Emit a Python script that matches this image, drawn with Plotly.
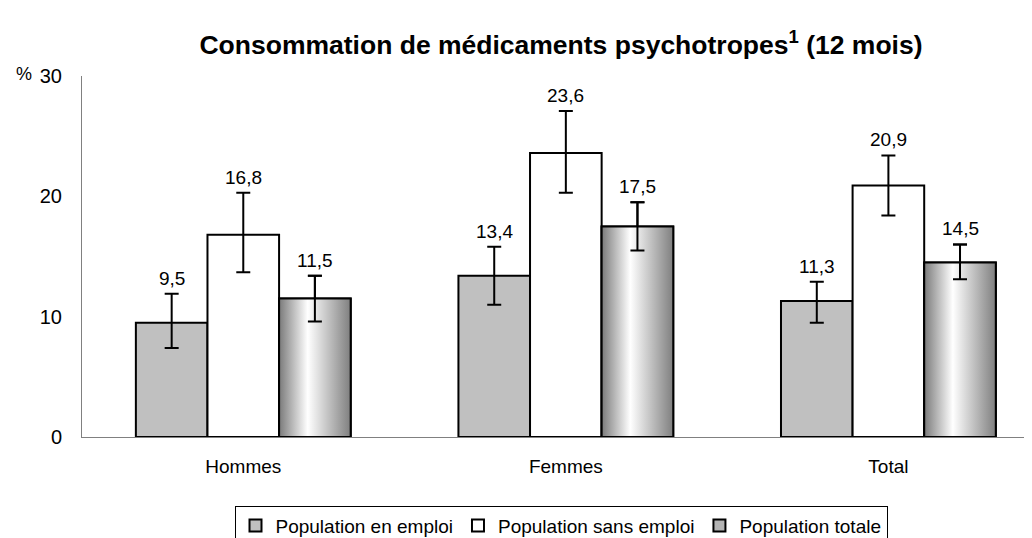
import plotly.graph_objects as go

# Data
categories = ["Hommes", "Femmes", "Total"]
series = ["Population en emploi", "Population sans emploi", "Population totale"]
emploi = [9.5, 13.4, 11.3]
sans_emploi = [16.8, 23.6, 20.9]
totale = [11.5, 17.5, 14.5]
# error bars (upper / lower)
emploi_plus = [2.4, 2.4, 1.6]
emploi_minus = [2.1, 2.4, 1.8]
sans_plus = [3.5, 3.5, 2.5]
sans_minus = [3.1, 3.3, 2.5]
totale_plus = [1.9, 2.0, 1.5]
totale_minus = [1.9, 2.0, 1.4]

values = [emploi, sans_emploi, totale]
err_plus = [emploi_plus, sans_plus, totale_plus]
err_minus = [emploi_minus, sans_minus, totale_minus]
colors = ["#c0c0c0", "#ffffff", "#b4b4b4"]

w = 0.222
idx = list(range(len(categories)))

fig = go.Figure()

for k, name in enumerate(series):
    xs = [i + (k - 1) * w for i in idx]
    fig.add_trace(go.Bar(
        x=xs, y=values[k], width=w, name=name,
        marker=dict(color=colors[k], line=dict(color="black", width=2)),
        error_y=dict(type="data", symmetric=False, array=err_plus[k],
                     arrayminus=err_minus[k], color="black", thickness=2, width=7),
        hoverinfo="y",
    ))

# gradient fill of the third series
grad = [[0, "#7a7a7a"], [0.4, "#ffffff"], [1, "#7f7f7f"]]
for i in idx:
    x0 = i + w / 2
    x1 = i + 3 * w / 2
    fig.add_trace(go.Scatter(
        x=[x0, x1, x1, x0, x0], y=[0, 0, totale[i], totale[i], 0],
        mode="lines", fill="toself",
        fillgradient=dict(type="horizontal", colorscale=grad, start=x0, stop=x1),
        line=dict(color="black", width=2),
        showlegend=False, hoverinfo="skip",
    ))

# error bars of the third series redrawn above the gradient
fig.add_trace(go.Scatter(
    x=[i + w for i in idx], y=totale, mode="markers",
    marker=dict(size=1, opacity=0),
    error_y=dict(type="data", symmetric=False, array=totale_plus,
                 arrayminus=totale_minus, color="black", thickness=2, width=7),
    showlegend=False, hoverinfo="skip",
))

# value labels above the error bars
for k in range(len(series)):
    for i in idx:
        fig.add_annotation(
            x=i + (k - 1) * w, y=values[k][i] + err_plus[k][i],
            text=f"{values[k][i]:.1f}".replace(".", ","),
            showarrow=False, yanchor="bottom", yshift=3,
            font=dict(size=19, color="black"),
        )

fig.add_annotation(x=0, y=1.0, xref="paper", yref="paper", text="%",
                   showarrow=False, xanchor="right", yanchor="middle",
                   xshift=-48, yshift=2, font=dict(size=18, color="black"))

fig.update_layout(
    title=dict(text="<b>Consommation de médicaments psychotropes<sup>1</sup> (12 mois)</b>",
               x=0.5, xref="paper", y=0.932, yref="container", yanchor="middle",
               font=dict(size=26.5, color="black")),
    width=1032, height=538,
    font=dict(family="Liberation Sans, Arial, sans-serif", size=19, color="black"),
    plot_bgcolor="white", paper_bgcolor="white",
    barmode="overlay",
    margin=dict(l=74, r=0, t=68, b=103),
    showlegend=True,
    legend=dict(orientation="h", x=0.5, xanchor="center", y=-0.19, yanchor="top",
                bordercolor="black", borderwidth=1, font=dict(size=19),
                itemwidth=30, tracegroupgap=0),
    xaxis=dict(range=[-0.5, 2.47], tickvals=idx, ticktext=categories,
               showline=True, linecolor="#808080", linewidth=1, showgrid=False,
               zeroline=False, ticks="", tickfont=dict(size=19), ticklabelstandoff=12),
    yaxis=dict(range=[0, 30], tickvals=[0, 10, 20, 30], showline=True,
               linecolor="#808080", linewidth=1, showgrid=False, zeroline=False,
               ticks="", tickfont=dict(size=20), ticklabelstandoff=15),
)

fig.write_html("out.html")
